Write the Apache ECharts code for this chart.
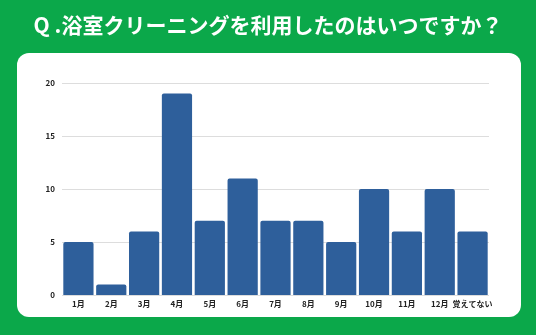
<!DOCTYPE html>
<html>
<head>
<meta charset="utf-8">
<script src="https://cdn.jsdelivr.net/npm/echarts@6/dist/echarts.min.js"></script>
<style>
  html, body { margin: 0; padding: 0; background: #0ba84a; }
  #container { width: 536px; height: 335px; }
</style>
</head>
<body>
<div id="container"></div>
<script>
var months = ['1月', '2月', '3月', '4月', '5月', '6月', '7月', '8月', '9月', '10月', '11月', '12月', '覚えてない'];
var counts = [5, 1, 6, 19, 7, 11, 7, 7, 5, 10, 6, 10, 6];
var yTicks = [0, 5, 10, 15, 20];

var myChart = echarts.init(document.getElementById('container'));
var font = '"Noto Sans CJK JP", "Noto Sans", sans-serif';

var option = {
    backgroundColor: '#0ba84a',
    animation: false,
    title: {
        text: 'Q .浴室クリーニングを利用したのはいつですか？',
        left: 'center',
        top: 10,
        textStyle: {
            color: '#ffffff',
            fontSize: 21,
            fontWeight: 'bold',
            fontFamily: font
        }
    },
    graphic: [{
        type: 'rect',
        z: -1,
        shape: { x: 17, y: 53, width: 504, height: 264, r: 12 },
        style: { fill: '#ffffff' }
    }],
    grid: { left: 62, right: 47, top: 83, bottom: 40 },
    xAxis: {
        type: 'category',
        data: months,
        axisLine: { show: false },
        axisTick: { show: false },
        axisLabel: {
            interval: 0,
            color: '#222',
            fontSize: 8,
            fontWeight: 'bold',
            fontFamily: font,
            margin: 5
        }
    },
    yAxis: {
        type: 'value',
        min: yTicks[0],
        max: yTicks[yTicks.length - 1],
        interval: 5,
        axisLabel: {
            color: '#222',
            fontSize: 8,
            fontWeight: 'bold',
            fontFamily: font,
            margin: 7
        },
        splitLine: { lineStyle: { color: '#dddddd' } }
    },
    series: [{
        type: 'bar',
        data: counts,
        barCategoryGap: '8%',
        itemStyle: { color: '#2e5f9b', borderRadius: [2, 2, 0, 0] }
    }]
};

myChart.setOption(option);
</script>
</body>
</html>
